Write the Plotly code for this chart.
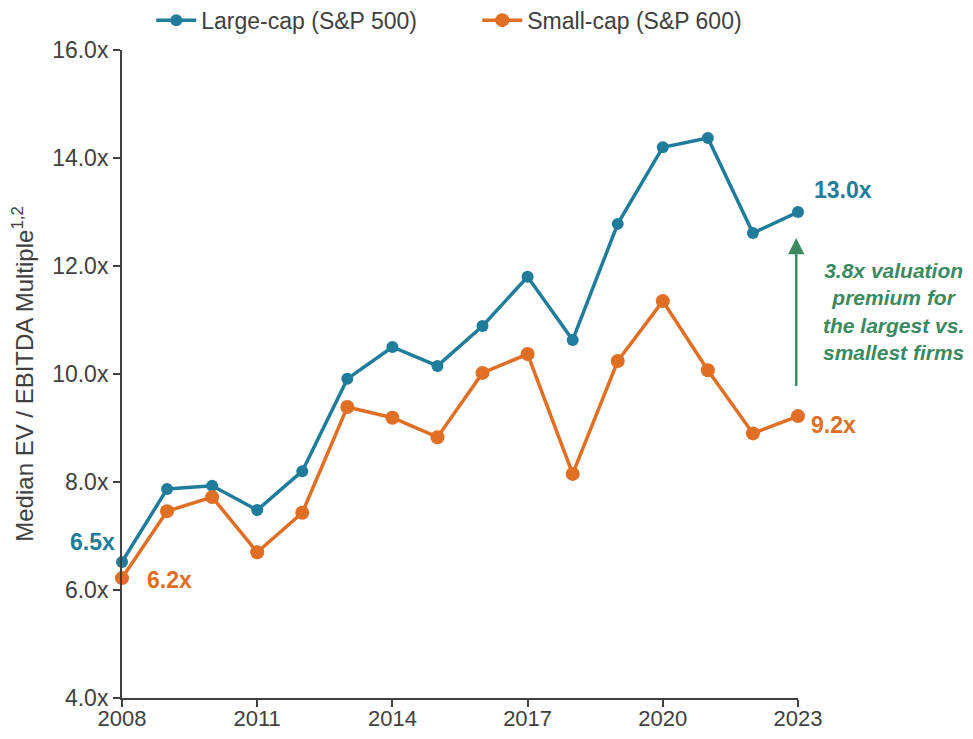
import plotly.graph_objects as go

years = list(range(2008, 2024))
large_cap = [6.52, 7.87, 7.93, 7.48, 8.20, 9.91, 10.50, 10.15, 10.89, 11.80, 10.63, 12.78, 14.20, 14.37, 12.61, 13.00]
small_cap = [6.22, 7.46, 7.72, 6.70, 7.43, 9.39, 9.19, 8.83, 10.02, 10.37, 8.15, 10.24, 11.35, 10.07, 8.90, 9.22]
x_ticks = [2008, 2011, 2014, 2017, 2020, 2023]
y_ticks = [4, 6, 8, 10, 12, 14, 16]
y_tick_labels = ["4.0x", "6.0x", "8.0x", "10.0x", "12.0x", "14.0x", "16.0x"]

BLUE = "#1f7d9b"
ORANGE = "#e06e23"
GREEN = "#3b8a5f"
TXT = "#404040"
FONT = "Liberation Sans, Arial, sans-serif"

fig = go.Figure()
fig.add_trace(go.Scatter(x=years, y=large_cap, mode="lines+markers", name="Large-cap (S&P 500)",
                         line=dict(color=BLUE, width=3.5), marker=dict(size=12, color=BLUE),
                         cliponaxis=False))
fig.add_trace(go.Scatter(x=years, y=small_cap, mode="lines+markers", name="Small-cap (S&P 600)",
                         line=dict(color=ORANGE, width=3.5), marker=dict(size=14, color=ORANGE),
                         cliponaxis=False))

LBL = 23
ann = []
ann.append(dict(x=years[-1], y=large_cap[-1], xref="x", yref="y", text="<b>13.0x</b>", showarrow=False,
                xshift=45, yshift=22, font=dict(size=LBL, color=BLUE, family=FONT)))
ann.append(dict(x=years[-1], y=small_cap[-1], xref="x", yref="y", text="<b>9.2x</b>", showarrow=False,
                xshift=35, yshift=-9, font=dict(size=LBL, color=ORANGE, family=FONT)))
ann.append(dict(x=years[0], y=large_cap[0], xref="x", yref="y", text="<b>6.5x</b>", showarrow=False,
                xshift=-30, yshift=20, font=dict(size=LBL, color=BLUE, family=FONT)))
ann.append(dict(x=years[0], y=small_cap[0], xref="x", yref="y", text="<b>6.2x</b>", showarrow=False,
                xshift=47, yshift=-2, font=dict(size=LBL, color=ORANGE, family=FONT)))
# arrow
ann.append(dict(x=2022.96, y=12.52, ax=2022.96, ay=9.75, xref="x", yref="y", axref="x", ayref="y",
                text="", showarrow=True, arrowhead=2, arrowsize=1.3, arrowwidth=2.5, arrowcolor=GREEN))
ann.append(dict(x=1.142, y=11.15, xref="paper", yref="y", xanchor="center", yanchor="middle",
                text="<b><i>3.8x valuation<br>premium for<br>the largest vs.<br>smallest firms</i></b>",
                showarrow=False, align="center", font=dict(size=21, color=GREEN, family=FONT)))

fig.update_layout(
    width=957, height=723,
    margin=dict(l=114, r=167, t=42, b=33, autoexpand=False),
    plot_bgcolor="white", paper_bgcolor="white",
    font=dict(family=FONT, size=23, color=TXT),
    showlegend=True,
    legend=dict(orientation="h", x=0.0433, y=1.046, xanchor="left", yanchor="middle",
                font=dict(size=23, color=TXT), itemwidth=40, traceorder="normal",
                entrywidth=271, entrywidthmode="pixels"),
    annotations=ann,
)
fig.update_xaxes(range=[2008, 2023], tickvals=x_ticks, ticktext=[str(v) for v in x_ticks],
                 showgrid=False, zeroline=False, showline=True, linecolor="#404040", linewidth=2,
                 ticks="outside", ticklen=7, tickwidth=2, tickcolor="#404040",
                 ticklabelstandoff=-7,
                 tickfont=dict(size=22, color=TXT))
fig.update_yaxes(range=[4, 16], tickvals=y_ticks, ticktext=y_tick_labels,
                 showgrid=False, zeroline=False, showline=True, linecolor="#404040", linewidth=2,
                 ticks="outside", ticklen=7, tickwidth=2, tickcolor="#404040",
                 tickfont=dict(size=23, color=TXT),
                 title=dict(text="Median EV / EBITDA Multiple<sup>1,2</sup>", font=dict(size=24, color=TXT), standoff=19))

fig.write_html("out.html")
